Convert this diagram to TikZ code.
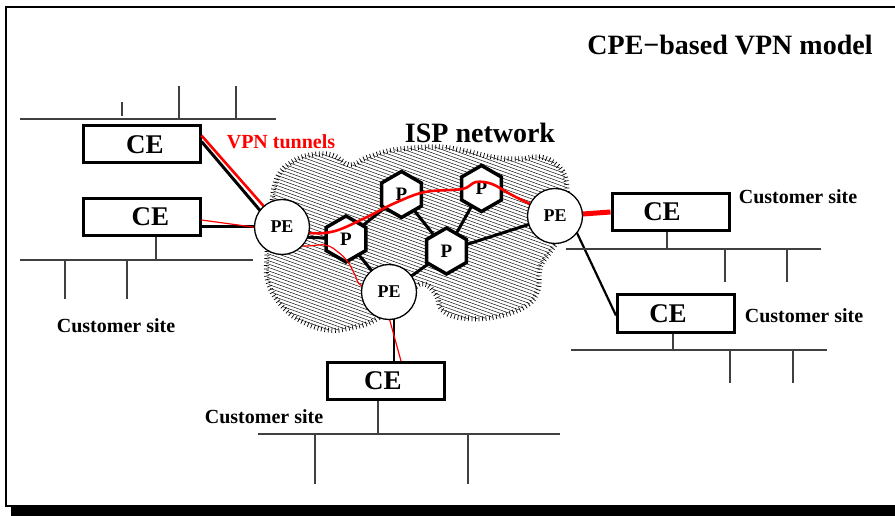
\documentclass[tikz,border=0pt]{standalone}
\usepackage{fontspec}
\setmainfont{Liberation Serif}
\usetikzlibrary{shapes.geometric,calc}
\pgfdeclarelayer{bg}\pgfdeclarelayer{mid}\pgfdeclarelayer{fg}
\pgfsetlayers{bg,main,mid,fg}
\begin{document}
\begin{tikzpicture}[x=1pt,y=-1pt,
  cebox/.style={draw,fill=white,line width=3pt,minimum width=117pt,minimum height=37pt,inner sep=0pt,font=\fontsize{27}{30}\selectfont\bfseries},
  penode/.style={circle,draw,fill=white,line width=1.3pt,minimum size=55pt,inner sep=0pt,font=\fontsize{18}{20}\selectfont\bfseries},
  pnode/.style={regular polygon,regular polygon sides=6,shape border rotate=30,draw,fill=white,line width=3.5pt,minimum size=46pt,inner sep=0pt,font=\fontsize{19}{20}\selectfont\bfseries},
  sitelabel/.style={font=\fontsize{20}{24}\selectfont\bfseries,inner sep=0pt},
  siteline/.style={draw=black!75,line width=1.3pt},
  link/.style={line width=3pt},
  tunnel/.style={red,line width=2.6pt},
  thintunnel/.style={red,line width=1.2pt},
  hatch/.style={line width=0.45pt},
  ticks/.style={line width=5pt,dash pattern=on 0.7pt off 2.8pt},
]
\useasboundingbox (0,0) rectangle (895,516);
% frame
\draw[line width=2pt] (6,7) rectangle (905,506);
\fill (11,507) rectangle (900,520);

% titles
\node[font=\fontsize{28}{32}\selectfont\bfseries,inner sep=0pt] (title) at (730,45) {CPE−based VPN model};
\node[font=\fontsize{28}{32}\selectfont\bfseries,inner sep=0pt] (isp) at (480,133) {ISP network};
\node[font=\fontsize{20}{24}\selectfont\bfseries,red,inner sep=0pt] (vpn) at (281,142) {VPN tunnels};

% cloud
\begin{pgfonlayer}{bg}
\begin{scope}
\clip plot[smooth cycle,tension=0.7] coordinates {(270,232) (272,200) (278,176) (292,162) (310,155) (332,155) (350,165) (366,158) (388,151) (412,148) (440,147) (466,151) (492,157) (518,159) (540,157) (557,165) (566,180) (566,205) (560,235) (550,252) (540,268) (538,290) (526,306) (495,317) (462,318) (442,310) (436,295) (422,284) (400,300) (375,320) (350,328) (328,330) (303,322) (282,306) (268,282) (267,255)};
\foreach \k in {0,...,92} \draw[hatch] (255,{28+3.4*\k}) -- ++(320,115);
\end{scope}
\draw[ticks] plot[smooth cycle,tension=0.7] coordinates {(270,232) (272,200) (278,176) (292,162) (310,155) (332,155) (350,165) (366,158) (388,151) (412,148) (440,147) (466,151) (492,157) (518,159) (540,157) (557,165) (566,180) (566,205) (560,235) (550,252) (540,268) (538,290) (526,306) (495,317) (462,318) (442,310) (436,295) (422,284) (400,300) (375,320) (350,328) (328,330) (303,322) (282,306) (268,282) (267,255)};
\end{pgfonlayer}

% CE boxes
\node[cebox] (ce1) at (141.5,144.5) {\hspace*{7pt}CE};
\node[cebox] (ce2) at (141.5,217) {\hspace*{18pt}CE};
\node[cebox] (cer1) at (670.5,212) {CE\hspace*{17pt}};
\node[cebox,minimum height=38pt] (cer2) at (676,313.5) {CE\hspace*{16pt}};
\node[cebox] (ceb) at (386,381) {CE\hspace*{6pt}};

% P routers
\node[pnode] (p1) at (346,239) {P};
\node[pnode] (p2) at (401.5,194.5) {P};
\node[pnode] (p3) at (481.5,188.5) {P};
\node[pnode] (p4) at (446.5,251) {P};

% PE routers
\begin{pgfonlayer}{fg}
\node[penode] (pel) at (282,227) {PE};
\node[penode] (peb) at (389,292) {PE};
\node[penode] (per) at (555,216) {PE};
\end{pgfonlayer}

% customer sites
\node[sitelabel] (s1) at (116,326) {Customer site};
\node[sitelabel] (s2) at (798,197) {Customer site};
\node[sitelabel] (s3) at (804,316) {Customer site};
\node[sitelabel] (s4) at (264,417) {Customer site};

% site LANs
\draw[siteline] (20,119) -- (276,119);
\draw[siteline] (122,102) -- (122,116);
\draw[siteline] (179,86) -- (179,119);
\draw[siteline] (236,86) -- (236,119);

\coordinate (l2) at (156,260);
\draw[siteline] (20,260) -- (253,260);
\draw[siteline] (l2 |- ce2.south) -- (l2);
\draw[siteline] (65,260) -- (65,299);
\draw[siteline] (127,260) -- (127,299);

\coordinate (lr1) at (667,249);
\draw[siteline] (566,249) -- (821,249);
\draw[siteline] (lr1 |- cer1.south) -- (lr1);
\draw[siteline] (725,249) -- (725,282);
\draw[siteline] (787,249) -- (787,282);

\coordinate (lr2) at (673,350);
\draw[siteline] (571,350) -- (827,350);
\draw[siteline] (lr2 |- cer2.south) -- (lr2);
\draw[siteline] (730,350) -- (730,383);
\draw[siteline] (793,350) -- (793,383);

\coordinate (lb) at (378,434);
\draw[siteline] (258,434) -- (560,434);
\draw[siteline] (lb |- ceb.south) -- (lb);
\draw[siteline] (315,434) -- (315,484);
\draw[siteline] (468,434) -- (468,484);

% black links
\begin{pgfonlayer}{bg}
\draw[link] ($(ce1.north east)+(0,17)$) -- ($(pel.center)+(-2,7)$);
\draw[link] (pel.center) -- (pel.center -| ce2.east);
\draw[link] ($(pel.center)+(0,9)$) -- (p1.center);
\draw[link] (p1.center) -- (p2.center);
\draw[link] (p1.center) -- (peb.center);
\draw[link] (p2.center) -- (p4.center);
\draw[link] (p4.center) -- (p3.center);
\draw[link] (p4.center) -- (per.center);
\draw[link] (peb.center) -- (p4.center);
\coordinate (bb) at ($(peb.center)+(5,0)$);
\draw[line width=2.6pt] (bb) -- (bb |- ceb.north);
\draw[line width=2.2pt] ($(per.center)+(14,0)$) -- ($(cer2.west)+(0,2)$);
\end{pgfonlayer}

% VPN tunnels
\begin{pgfonlayer}{mid}
\draw[tunnel] ($(ce1.north east)+(0,11)$) -- (pel.center);
\draw[tunnel] plot[smooth,tension=0.6] coordinates {(pel.center) (310,233) (335,231) (365,218) (395,203) (425,192) (462,189) (476,182) (492,184) (510,194) (530,204) (per.center)};
\draw[red,line width=5pt] (per.center) -- (cer1.west);
\draw[thintunnel] ($(ce2.east)+(0,3)$) -- ($(pel.center)+(0,4)$);
\draw[thintunnel] plot[smooth,tension=0.6] coordinates {(pel.center) (298,245) (325,245) (338,252) (348,262) (355,275) (362,286) (peb.center)};
\draw[thintunnel] ($(peb.center)+(-7,0)$) -- ($(ceb.north)+(15,0)$);
\end{pgfonlayer}
\end{tikzpicture}
\end{document}
